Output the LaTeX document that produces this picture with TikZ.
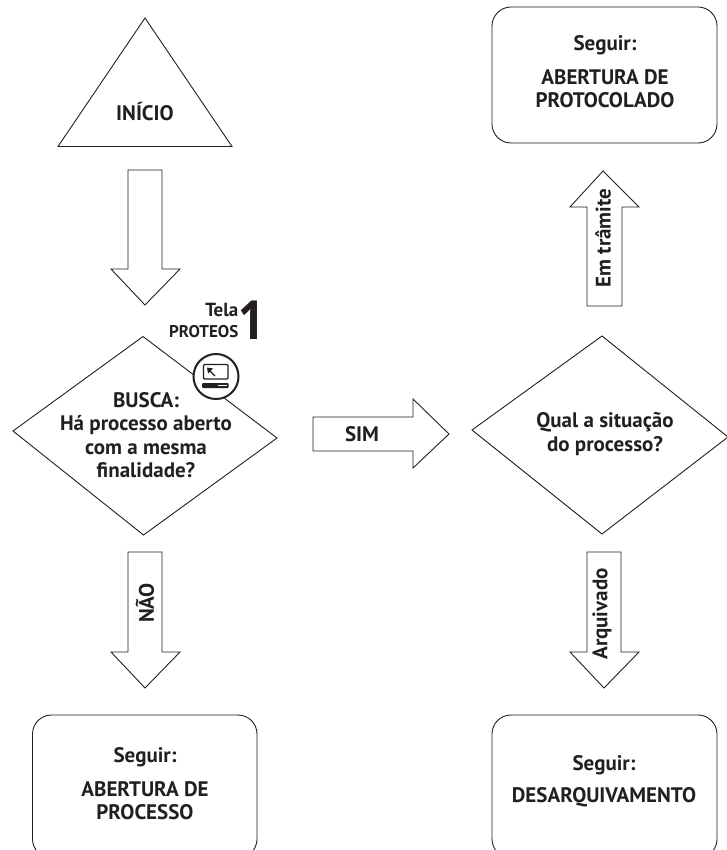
\documentclass[tikz,border=0pt]{standalone}
\usepackage{fontspec}
\setmainfont{PT Sans}
\newfontfamily\numfont{Open Sans}
\definecolor{ink}{HTML}{231F20}
\tikzset{
  outline/.style={draw=ink,line width=0.9pt,fill=white,line join=miter},
  card/.style={draw=ink,line width=0.9pt,fill=white,rounded corners=19pt},
  lbl/.style={text=ink,font=\bfseries\fontsize{21}{23.5}\selectfont,align=center,inner sep=0pt},
  small/.style={lbl,font=\bfseries\fontsize{17}{20}\selectfont,anchor=east}
}
\begin{document}
\begin{tikzpicture}[x=1pt,y=-1pt]
\useasboundingbox (0,0) rectangle (727,850);
\begin{scope}
\clip (0,0) rectangle (727,850);
% shapes
\draw[outline] (145,18) -- (232,146.5) -- (58,146.5) -- cycle;
\draw[outline] (143,336.5) -- (277,438) -- (143.5,535) -- (13,431) -- cycle;
\draw[outline] (602,336) -- (728,437) -- (602,534) -- (472,430) -- cycle;
\draw[card] (492,7) rectangle (717,143);
\draw[card] (32.5,715) rectangle (257,858);
\draw[card] (492,715) rectangle (717,858);
% block arrows
\draw[outline] (128,170) -- (162,170) -- (162,269) -- (180,269) -- (145,305) -- (111,269) -- (128,269) -- cycle;
\draw[outline] (128,552) -- (162,552) -- (162,652) -- (180,652) -- (145,688) -- (111,652) -- (128,652) -- cycle;
\draw[outline] (587,552) -- (621,552) -- (621,652) -- (639,652) -- (604,688) -- (570,652) -- (587,652) -- cycle;
\draw[outline] (587,306) -- (622,306) -- (622,207) -- (639,207) -- (603,171) -- (570,207) -- (587,207) -- cycle;
\draw[outline] (313,417) -- (413,417) -- (413,399) -- (449,434) -- (413,468) -- (413,451) -- (313,451) -- cycle;
\end{scope}
% icon
\node[circle,draw=ink,line width=2pt,fill=white,minimum size=45pt,inner sep=0pt] (iconring) at (216,376.5) {};
\draw[ink,line width=1.3pt,rounded corners=1pt] (203.5,364.5) rectangle (228,379);
\fill[ink,rounded corners=1pt] (202,383) rectangle (228.5,388);
\fill[white] (218,384.6) rectangle (226.5,386.4);
\draw[ink,line width=1.2pt] (215,376) -- (209,370);
\fill[ink] (207,367.5) -- (213,368.5) -- (208,373.5) -- cycle;
% text
\node[lbl] (inicio) at (145,112) {INÍCIO};
\node[lbl] (busca) at (146,435) {BUSCA:\\Há processo aberto\\com a mesma\\finalidade?};
\node[lbl] (situacao) at (605,434) {Qual a situação\\do processo?};
\node[lbl] (sim) at (362,434) {SIM};
\node[lbl,rotate=90] (nao) at (145,603) {NÃO};
\node[lbl,rotate=90] (arquivado) at (602,614) {Arquivado};
\node[lbl,rotate=90] (tramite) at (603,238) {Em trâmite};
\node[lbl] (s1) at (605,45) {Seguir:};
\node[lbl] (t1) at (605,88.5) {ABERTURA DE\\PROTOCOLADO};
\node[lbl] (s2) at (145,757) {Seguir:};
\node[lbl] (t2) at (145,800.5) {ABERTURA DE\\PROCESSO};
\node[lbl] (s3) at (604,765) {Seguir:};
\node[lbl] (t3) at (604,797) {DESARQUIVAMENTO};
\node[small,font=\bfseries\fontsize{19}{20}\selectfont] (tela) at (238.5,310) {Tela};
\node[small] (proteos) at (238.5,332) {PROTEOS};
\node[lbl,font=\numfont\bfseries\fontsize{54}{56}\selectfont,xscale=0.85] (num) at (252,320) {1};
\end{tikzpicture}
\end{document}
